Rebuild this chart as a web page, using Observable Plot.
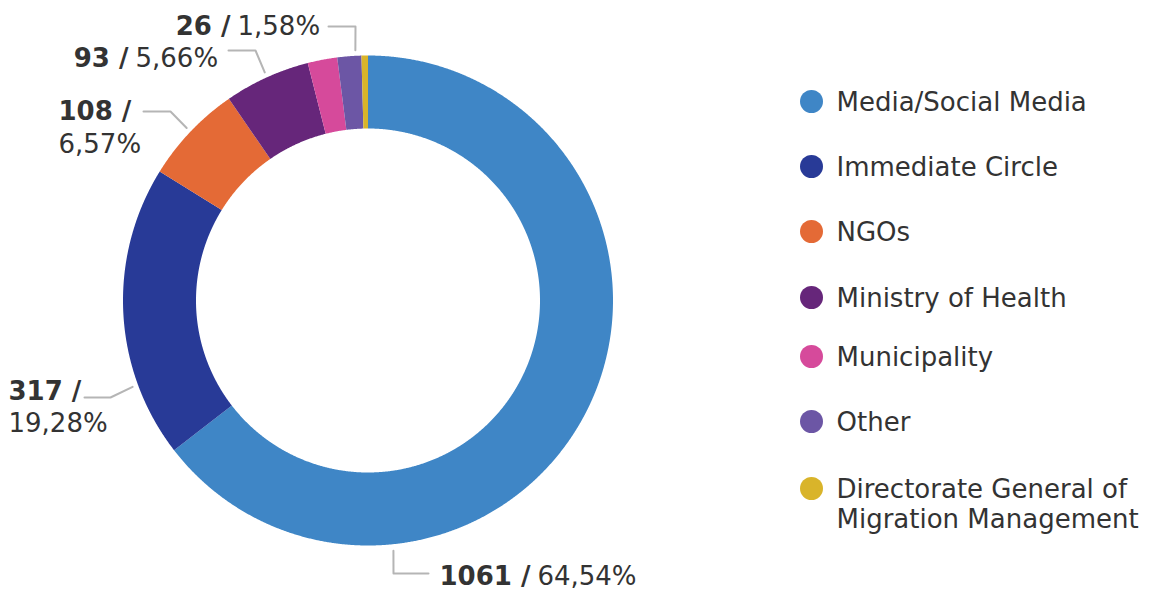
<!DOCTYPE html>
<html>
<head>
<meta charset="utf-8">
<script src="https://cdn.jsdelivr.net/npm/d3@7"></script>
<script src="https://cdn.jsdelivr.net/npm/@observablehq/plot@0.6"></script>
<style>
  html, body { margin: 0; padding: 0; background: #fff; }
  #chart { width: 1168px; height: 593px; }
</style>
</head>
<body>
<div id="chart"></div>
<script>
// ---- data ----
const categories = ["Media/Social Media", "Immediate Circle", "NGOs", "Ministry of Health", "Municipality", "Other", "Directorate General of Migration Management"];
const counts = [1061, 317, 108, 93, 32, 26, 7];
const colors = ["#3f86c6", "#283a97", "#e46a36", "#66267a", "#d64a9b", "#6c56a5", "#d9b42a"];
const labeledCategories = ["Media/Social Media", "Immediate Circle", "NGOs", "Ministry of Health", "Other"];

// ---- layout (pixels) ----
const W = 1168, H = 593;
const CX = 368, CY = 300.5, R_OUT = 245, R_IN = 172;
const FONT = "'DejaVu Sans', sans-serif";
const FS = 26;
const TEXT = "#333333";
const LEADER = "#b5b5b5";
const legendY = [101, 166, 231, 297, 356, 421, 488];
// per-label annotation layout: leader angle (deg, clockwise from top; null = slice middle),
// elbow/end of leader, and text placement
const labelLayout = {
  "Media/Social Media": {angle: 174.3, elbow: [393, 573], end: [428, 573], mode: "inline", x: 439, y: 576},
  "Immediate Circle":   {angle: 250,   elbow: [110, 397], end: [84, 397],  mode: "stack", x: 8,  y1: 391, y2: 423},
  "NGOs":               {angle: null,  elbow: [170, 111], end: [143, 111], mode: "stack", x: 58, y1: 111, y2: 144},
  "Ministry of Health": {angle: null,  elbow: [255, 50],  end: [228, 50],  mode: "inline", split: 128, y: 58},
  "Other":              {angle: 357,   elbow: [355, 26],  end: [328, 26],  mode: "inline", split: 230, y: 26}
};

const total = d3.sum(counts);
const rows = categories.map((c, i) => ({cat: c, count: counts[i]}));
const arcs = d3.pie().sort(null).value(d => d.count)(rows);

// slice polygons derived from the data
const pt = (a, r) => [CX + r * Math.sin(a), CY - r * Math.cos(a)];
const sliceRows = [];
for (const a of arcs) {
  const n = Math.max(2, Math.ceil((a.endAngle - a.startAngle) / 0.004));
  for (let k = 0; k <= n; k++) {
    const t = a.startAngle + (a.endAngle - a.startAngle) * k / n;
    const [x1, y1] = pt(t, R_OUT);
    const [x2, y2] = pt(t, R_IN);
    sliceRows.push({cat: a.data.cat, x1, y1, x2, y2});
  }
}

const fmtPct = v => d3.format(".2f")(v * 100).replace(".", ",") + "%";

// measure text widths to keep bold + regular parts together
const canvas = document.createElement("canvas").getContext("2d");
const measure = (s, w) => { canvas.font = `${w} ${FS}px ${FONT}`; return canvas.measureText(s).width; };

// labels + leaders
const boldLabels = [], regLabels = [], leaders = [];
for (const a of arcs) {
  const c = a.data.cat;
  if (!labeledCategories.includes(c)) continue;
  const L = labelLayout[c];
  const ang = L.angle == null ? (a.startAngle + a.endAngle) / 2 : L.angle * Math.PI / 180;
  const [sx, sy] = pt(ang, R_OUT + 6);
  leaders.push({cat: c, x: sx, y: sy}, {cat: c, x: L.elbow[0], y: L.elbow[1]}, {cat: c, x: L.end[0], y: L.end[1]});
  const b = `${a.data.count} /`;
  const p = fmtPct(a.data.count / total);
  if (L.mode === "inline") {
    const split = L.split != null ? L.split : L.x + measure(b, "bold");
    boldLabels.push({text: b, x: split, y: L.y});
    regLabels.push({text: p, x: split + 7, y: L.y});
  } else {
    const bw = measure(b, "bold");
    boldLabels.push({text: b, x: L.x + bw, y: L.y1});
    regLabels.push({text: p, x: L.x, y: L.y2});
  }
}

// legend
const legendRows = categories.map((c, i) => ({cat: c, label: c.replace("General of ", "General of\n"), y: legendY[i]}));

const chart = Plot.plot({
  width: W,
  height: H,
  margin: 0,
  style: {fontFamily: FONT, background: "#fff"},
  x: {domain: [0, W], range: [0, W], axis: null},
  y: {domain: [0, H], range: [0, H], axis: null},
  color: {domain: categories, range: colors},
  marks: [
    Plot.area(sliceRows, {x1: "x1", y1: "y1", x2: "x2", y2: "y2", z: "cat", fill: "cat", curve: "linear"}),
    Plot.line(leaders, {x: "x", y: "y", z: "cat", stroke: LEADER, strokeWidth: 2, curve: "linear"}),
    Plot.text(boldLabels, {x: "x", y: "y", text: "text", textAnchor: "end", fontSize: FS, fontWeight: 700, fill: TEXT}),
    Plot.text(regLabels, {x: "x", y: "y", text: "text", textAnchor: "start", fontSize: FS, fill: TEXT}),
    Plot.dot(legendRows, {x: () => 811, y: "y", r: 11.5, fill: "cat"}),
    Plot.text(legendRows, {x: () => 836, y: "y", text: "label", textAnchor: "start", lineAnchor: "top", dy: -12, lineHeight: 1.15, fontSize: FS, fill: TEXT})
  ]
});
document.getElementById("chart").appendChild(chart);
</script>
</body>
</html>
